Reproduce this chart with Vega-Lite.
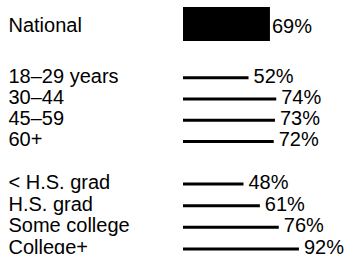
{
  "$schema": "https://vega.github.io/schema/vega-lite/v6.json",
  "padding": {"left": 8, "top": 0, "right": 0, "bottom": 0},
  "background": "white",
  "spacing": 18,
  "datasets": {
    "poll": [
      {"group": "National", "category": "National", "share": 0.69},
      {"group": "Age", "category": "18–29 years", "share": 0.52},
      {"group": "Age", "category": "30–44", "share": 0.74},
      {"group": "Age", "category": "45–59", "share": 0.73},
      {"group": "Age", "category": "60+", "share": 0.72},
      {"group": "Education", "category": "< H.S. grad", "share": 0.48},
      {"group": "Education", "category": "H.S. grad", "share": 0.61},
      {"group": "Education", "category": "Some college", "share": 0.76},
      {"group": "Education", "category": "College+", "share": 0.92}
    ]
  },
  "vconcat": [
    {
      "data": {"name": "poll"},
      "transform": [{"filter": "datum.group === 'National'"}],
      "width": 126,
      "height": 48,
      "encoding": {
        "y": {"field": "category", "type": "nominal", "sort": null, "title": null,
              "axis": {"labelOffset": 2},
              "scale": {"paddingInner": 0, "paddingOuter": 0}},
        "x": {"field": "share", "type": "quantitative", "axis": null,
              "scale": {"domain": [0, 1], "nice": false}}
      },
      "layer": [
        {"mark": {"type": "bar", "size": 34, "color": "black"}},
        {"mark": {"type": "text", "align": "left", "dx": 2, "baseline": "middle", "dy": 3},
         "encoding": {"text": {"field": "share", "type": "quantitative", "format": ".0%"}}}
      ]
    },
    {
      "data": {"name": "poll"},
      "transform": [{"filter": "datum.group === 'Age'"}],
      "width": 126,
      "height": 85,
      "encoding": {
        "y": {"field": "category", "type": "nominal", "sort": null, "title": null,
              "scale": {"paddingInner": 0, "paddingOuter": 0}},
        "x": {"field": "share", "type": "quantitative", "axis": null,
              "scale": {"domain": [0, 1], "nice": false}}
      },
      "layer": [
        {"mark": {"type": "bar", "size": 3, "color": "black"}},
        {"mark": {"type": "text", "align": "left", "dx": 5, "baseline": "middle", "dy": -1},
         "encoding": {"text": {"field": "share", "type": "quantitative", "format": ".0%"}}}
      ]
    },
    {
      "data": {"name": "poll"},
      "transform": [{"filter": "datum.group === 'Education'"}],
      "width": 126,
      "height": 93,
      "encoding": {
        "y": {"field": "category", "type": "nominal", "sort": null, "title": null,
              "scale": {"paddingInner": 0, "paddingOuter": 0.14}},
        "x": {"field": "share", "type": "quantitative", "axis": null,
              "scale": {"domain": [0, 1], "nice": false}}
      },
      "layer": [
        {"mark": {"type": "bar", "size": 3, "color": "black"}},
        {"mark": {"type": "text", "align": "left", "dx": 5, "baseline": "middle", "dy": -1},
         "encoding": {"text": {"field": "share", "type": "quantitative", "format": ".0%"}}}
      ]
    }
  ],
  "config": {
    "view": {"stroke": null},
    "axisY": {
      "domain": false,
      "ticks": false,
      "grid": false,
      "labelAlign": "left",
      "labelPadding": 175,
      "labelFont": "Liberation Sans",
      "labelFontSize": 20,
      "labelColor": "black",
      "labelOffset": -1,
      "labelLimit": 0
    },
    "text": {"font": "Liberation Sans", "fontSize": 20, "color": "black"}
  }
}
